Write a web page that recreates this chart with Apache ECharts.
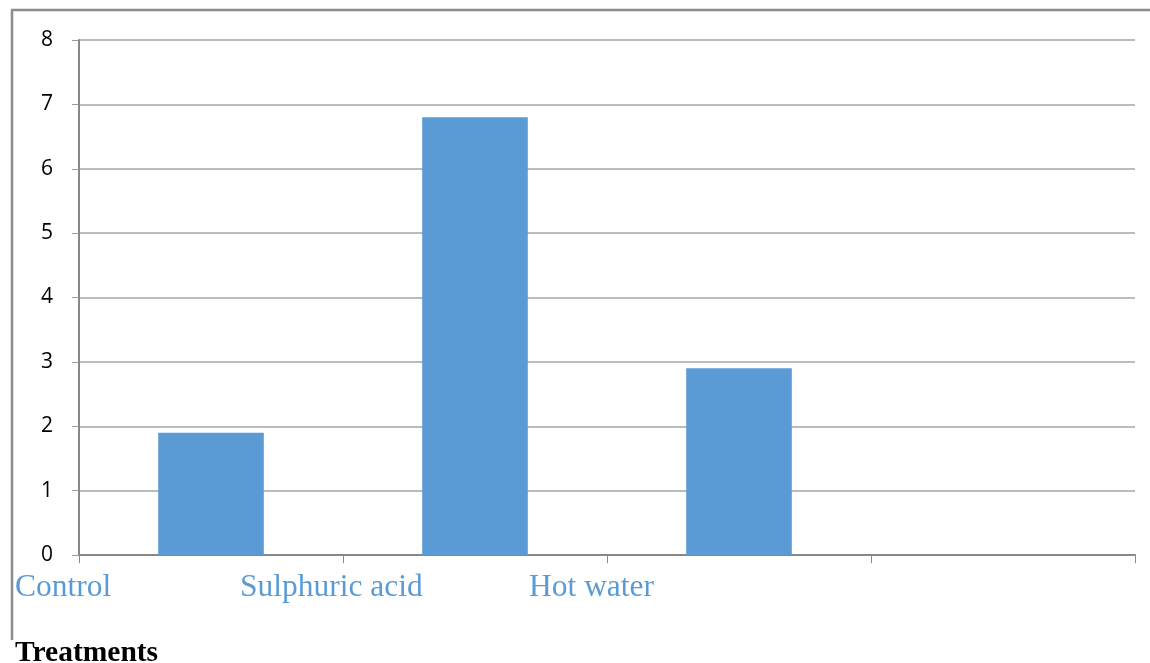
<!DOCTYPE html>
<html>
<head>
<meta charset="utf-8">
<script src="https://cdn.jsdelivr.net/npm/echarts@6/dist/echarts.min.js"></script>
<style>
  html, body { margin: 0; padding: 0; background: #fff; }
  #chart { width: 1150px; height: 663px; }
</style>
</head>
<body>
<div id="chart"></div>
<script>
// categories along x (last slot is empty in the original)
var categories = ["Control", "Sulphuric acid", "Hot water", ""];
var values = [1.9, 6.8, 2.9, null];
var yTicks = [0, 1, 2, 3, 4, 5, 6, 7, 8];
var axisTitle = "Treatments";

// where the loose category captions sit under the axis
var captionX = [15, 240, 529];

var chart = echarts.init(document.getElementById("chart"));

var captions = [];
for (var i = 0; i < captionX.length; i++) {
  captions.push({
    type: "text",
    left: captionX[i],
    top: 572,
    style: {
      text: categories[i],
      fill: "#5b9bd5",
      font: "31.5px 'Liberation Serif', 'Times New Roman', serif"
    }
  });
}

var option = {
  animation: false,
  backgroundColor: "#fff",
  grid: {
    left: 79,
    right: 15,
    top: 40,
    bottom: 108
  },
  xAxis: {
    type: "category",
    data: categories,
    axisLine: { lineStyle: { color: "#888", width: 2 } },
    axisTick: { show: true, length: 8, lineStyle: { color: "#888", width: 1 } },
    axisLabel: { show: false },
    splitLine: { show: false }
  },
  yAxis: {
    type: "value",
    min: yTicks[0],
    max: yTicks[yTicks.length - 1],
    interval: 1,
    axisLine: { show: true, lineStyle: { color: "#888", width: 2 } },
    axisTick: { show: true, length: 7, lineStyle: { color: "#999" } },
    axisLabel: {
      margin: 26,
      color: "#000",
      fontSize: 21,
      fontFamily: "'Open Sans', 'Noto Sans', sans-serif"
    },
    splitLine: { lineStyle: { color: "#a6a6a6", width: 1.5 } }
  },
  series: [
    {
      type: "bar",
      data: values,
      barWidth: "40%",
      itemStyle: { color: "#5b9bd5" }
    }
  ],
  graphic: [
    // frame of the original figure box
    {
      type: "line",
      shape: { x1: 11, y1: 10, x2: 1150, y2: 10 },
      style: { stroke: "#8c8c8c", lineWidth: 2.5 }
    },
    {
      type: "line",
      shape: { x1: 12, y1: 10, x2: 12, y2: 640 },
      style: { stroke: "#8c8c8c", lineWidth: 2.5 }
    },
    {
      type: "text",
      left: 15,
      top: 638,
      style: {
        text: axisTitle,
        fill: "#000",
        font: "bold 29.5px 'Liberation Serif', 'Times New Roman', serif"
      }
    }
  ].concat(captions)
};

chart.setOption(option);
</script>
</body>
</html>
